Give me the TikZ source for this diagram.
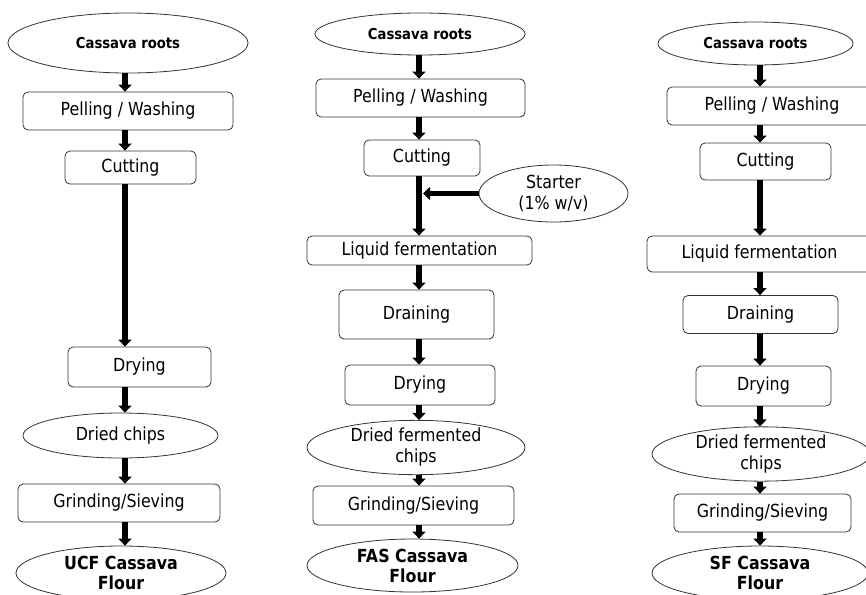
\documentclass[tikz,border=0pt]{standalone}
\usepackage{fontspec}
\setmainfont{DejaVu Sans}[FakeStretch=0.88]
\usetikzlibrary{shapes.geometric,arrows.meta}

\begin{document}
\begin{tikzpicture}[x=1pt,y=-1pt,
		box/.style={draw=black!80,line width=0.8pt,rounded corners=5pt,inner sep=0pt,font=\fontsize{18}{21}\selectfont},
		oval/.style={ellipse,draw=black!80,line width=0.8pt,inner sep=0pt,align=center,font=\fontsize{18}{21}\selectfont},
		root/.style={oval,font=\bfseries\fontsize{15}{18}\selectfont},
		flour/.style={oval,font=\bfseries\fontsize{18}{20}\selectfont},
		flow/.style={line width=5.5pt,-{Triangle[width=13pt,length=7pt]}}]
		\useasboundingbox (0,0) rectangle (866,594);
		\clip (0,0) rectangle (866,594);

		% spines of the three columns
		\coordinate (sp1) at (125,0);
		\coordinate (sp2) at (419,0);
		\coordinate (sp3) at (760,0);

		% UCF
		\node[root,minimum width=240pt,minimum height=60pt] (r1) at (128,43) {Cassava roots};
		\node[box,minimum width=210pt,minimum height=38pt] (p1) at (128,111) {Pelling / Washing};
		\node[box,minimum width=131pt,minimum height=33pt] (c1) at (130.5,167.5) {Cutting};
		\node[box,minimum width=143pt,minimum height=40pt] (d1) at (139.5,367) {Drying};
		\node[oval,minimum width=195pt,minimum height=45pt] (ch1) at (120.5,435.5) {Dried chips};
		\node[box,minimum width=202pt,minimum height=38pt] (g1) at (119,503) {Grinding/Sieving};
		\node[flour,minimum width=210pt,minimum height=54pt] (f1) at (121,573) {UCF Cassava\\Flour};

		\draw[flow] (r1.south -| sp1) -- (p1.north -| sp1);
		\draw[flow] (p1.south -| sp1) -- (c1.north -| sp1);
		\draw[flow] (c1.south -| sp1) -- (d1.north -| sp1);
		\draw[flow] (d1.south -| sp1) -- (ch1.north -| sp1);
		\draw[flow] (ch1.south -| sp1) -- (g1.north -| sp1);
		\draw[flow] (g1.south -| sp1) -- (f1.north -| sp1);

		% FAS
		\node[root,minimum width=210pt,minimum height=42pt] (r2) at (420,34) {Cassava roots};
		\node[box,minimum width=209pt,minimum height=38pt] (p2) at (420.5,98) {Pelling / Washing};
		\node[box,minimum width=116pt,minimum height=36pt] (c2) at (422,158) {Cutting};
		\node[oval,minimum width=149pt,minimum height=57pt] (s2) at (553.5,193.5) {Starter\\(1\% w/v)};
		\node[box,minimum width=225pt,minimum height=29pt] (l2) at (419.5,250.5) {Liquid fermentation};
		\node[box,minimum width=155pt,minimum height=49pt] (dr2) at (416.5,314.5) {Draining};
		\node[box,minimum width=150pt,minimum height=40pt] (d2) at (420,385) {Drying};
		\node[oval,minimum width=218pt,minimum height=51pt] (ch2) at (416,447.5) {Dried fermented\\chips};
		\node[box,minimum width=201pt,minimum height=39pt] (g2) at (413.5,505.5) {Grinding/Sieving};
		\node[flour,minimum width=211pt,minimum height=53pt] (f2) at (412.5,565.5) {FAS Cassava\\Flour};

		\draw[flow] (r2.south -| sp2) -- (p2.north -| sp2);
		\draw[flow] (p2.south -| sp2) -- (c2.north -| sp2);
		\draw[flow] (c2.south -| sp2) -- (l2.north -| sp2);
		\draw[flow] (s2.west) -- ([xshift=4pt]s2.west -| sp2);
		\draw[flow] (l2.south -| sp2) -- (dr2.north -| sp2);
		\draw[flow] (dr2.south -| sp2) -- (d2.north -| sp2);
		\draw[flow] (d2.south -| sp2) -- (ch2.north -| sp2);
		\draw[flow] (ch2.south -| sp2) -- (g2.north -| sp2);
		\draw[flow] (g2.south -| sp2) -- (f2.north -| sp2);

		% SF
		\node[root,minimum width=195pt,minimum height=43pt] (r3) at (755.5,43.5) {Cassava roots};
		\node[box,minimum width=210pt,minimum height=38pt] (p3) at (772,106) {Pelling / Washing};
		\node[box,minimum width=131pt,minimum height=37pt] (c3) at (765.5,161.5) {Cutting};
		\node[box,minimum width=225pt,minimum height=36pt] (l3) at (759.5,254) {Liquid fermentation};
		\node[box,minimum width=155pt,minimum height=38pt] (dr3) at (760.5,314.5) {Draining};
		\node[box,minimum width=135pt,minimum height=40pt] (d3) at (763.5,386) {Drying};
		\node[oval,minimum width=218pt,minimum height=52pt] (ch3) at (761,454) {Dried fermented\\chips};
		\node[box,minimum width=177pt,minimum height=38pt] (g3) at (762.5,513) {Grinding/Sieving};
		\node[flour,minimum width=216pt,minimum height=54pt] (f3) at (760,573) {SF Cassava\\Flour};

		\draw[flow] (r3.south -| sp3) -- (p3.north -| sp3);
		\draw[flow] (p3.south -| sp3) -- (c3.north -| sp3);
		\draw[flow] (c3.south -| sp3) -- (l3.north -| sp3);
		\draw[flow] (l3.south -| sp3) -- (dr3.north -| sp3);
		\draw[flow] (dr3.south -| sp3) -- (d3.north -| sp3);
		\draw[flow] (d3.south -| sp3) -- (ch3.north -| sp3);
		\draw[flow] (ch3.south -| sp3) -- (g3.north -| sp3);
		\draw[flow] (g3.south -| sp3) -- (f3.north -| sp3);

	\end{tikzpicture}
\end{document}
